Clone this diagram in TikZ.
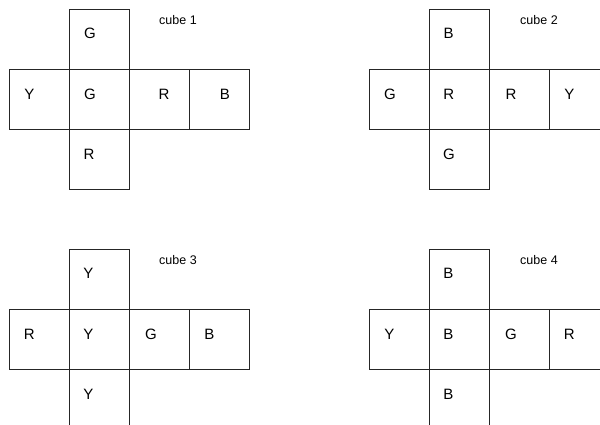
\documentclass[tikz,border=0pt]{standalone}
\usepackage{fontspec}
\setmainfont{Liberation Sans}
\begin{document}
\begin{tikzpicture}[x=1pt,y=-1pt,
  face/.style={draw=black!85,line width=0.9pt},
  lbl/.style={inner sep=0pt,anchor=center,font=\fontsize{15}{15}\selectfont},
  cubecap/.style={inner sep=0pt,anchor=center,font=\fontsize{12.5}{12.5}\selectfont}]
\useasboundingbox (0,0) rectangle (600,425);
\clip (0,0) rectangle (600,425);
% cube nets: origin = top-left of top square minus (60,0)
\foreach \ox/\oy in {9/9.3, 369/9.3, 9/249.3, 369/249.3}{
  \draw[face] (\ox+60,\oy) rectangle (\ox+120,\oy+60);
  \draw[face] (\ox,\oy+60) rectangle (\ox+60,\oy+120);
  \draw[face] (\ox+60,\oy+60) rectangle (\ox+120,\oy+120);
  \draw[face] (\ox+120,\oy+60) rectangle (\ox+180,\oy+120);
  \draw[face] (\ox+180,\oy+60) rectangle (\ox+240,\oy+120);
  \draw[face] (\ox+60,\oy+120) rectangle (\ox+120,\oy+180);
}
% cube 1
\node[cubecap] (c1) at (178,20) {cube 1};
\node[lbl] (c1t) at (90,33.5) {G};
\node[lbl] (c1l) at (29.3,94) {Y};
\node[lbl] (c1m) at (90,94) {G};
\node[lbl] (c1r) at (164,94) {R};
\node[lbl] (c1b) at (225,94) {B};
\node[lbl] (c1d) at (89,154) {R};
% cube 2
\node[cubecap] (c2) at (539,20) {cube 2};
\node[lbl] (c2t) at (448.7,33.5) {B};
\node[lbl] (c2l) at (390,94) {G};
\node[lbl] (c2m) at (448.7,94) {R};
\node[lbl] (c2r) at (511,94) {R};
\node[lbl] (c2b) at (569.3,94) {Y};
\node[lbl] (c2d) at (449,154) {G};
% cube 3
\node[cubecap] (c3) at (178,260) {cube 3};
\node[lbl] (c3t) at (88.3,273.5) {Y};
\node[lbl] (c3l) at (29.3,334) {R};
\node[lbl] (c3m) at (88.3,334) {Y};
\node[lbl] (c3r) at (151,334) {G};
\node[lbl] (c3b) at (209.3,334) {B};
\node[lbl] (c3d) at (88.3,394) {Y};
% cube 4
\node[cubecap] (c4) at (539,260) {cube 4};
\node[lbl] (c4t) at (448.3,273.5) {B};
\node[lbl] (c4l) at (389.3,334) {Y};
\node[lbl] (c4m) at (448.3,334) {B};
\node[lbl] (c4r) at (511,334) {G};
\node[lbl] (c4b) at (569.3,334) {R};
\node[lbl] (c4d) at (448.3,394) {B};
\end{tikzpicture}
\end{document}
